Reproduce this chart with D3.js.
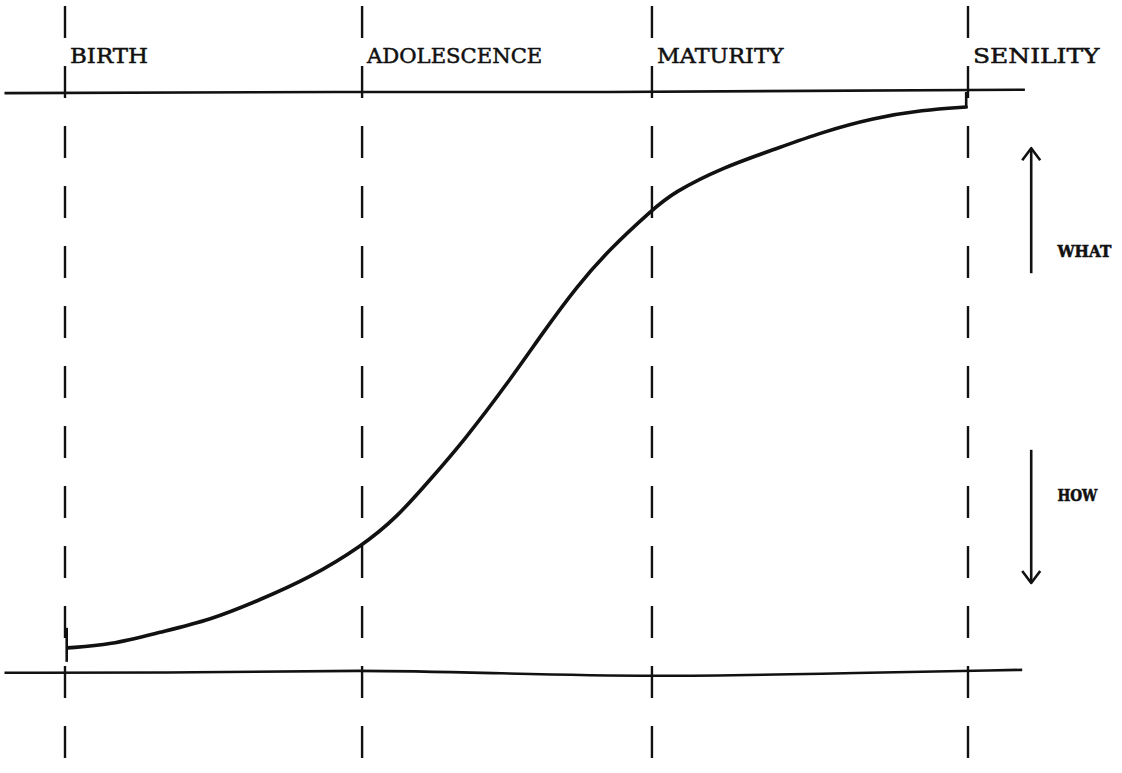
<!DOCTYPE html>
<html>
<head>
<meta charset="utf-8">
<script src="https://cdn.jsdelivr.net/npm/d3@7"></script>
<style>
  body { margin: 0; background: #fff; }
  svg { display: block; }
</style>
</head>
<body>
<svg width="1122" height="773"></svg>
<script>
// stages along the life cycle (x in % of time from birth to senility)
var stages = ["BIRTH", "ADOLESCENCE", "MATURITY", "SENILITY"];
var stageX = [0, 32.9, 65.0, 100];

// the S curve, y in % between bottom line (0) and top line (100)
var curveX = [0.3, 5.0, 10.5, 16.1, 21.6, 27.1, 32.9, 36.8, 40.4, 44.1, 49.3, 52.9, 56.7, 60.4, 65.0, 67.3, 72.9, 78.4, 83.9, 89.5, 95.0, 99.8];
var curveY = [4.0, 4.5, 6.7, 8.8, 12.3, 16.1, 21.6, 26.6, 33.0, 39.6, 50.3, 58.4, 66.5, 73.0, 79.6, 82.6, 87.0, 90.0, 93.1, 95.5, 96.9, 97.4];

// hand drawn top and bottom lines
var topX = [-6.7, 30, 60, 106.3];
var topY = [99.8, 100, 100, 100.4];
var bottomX = [-6.7, 15, 32.9, 48, 65.0, 83, 106];
var bottomY = [-0.3, -0.3, 0.2, -0.4, -1.0, -0.5, 0.2];

// WHAT / HOW arrows
var arrowLabels = ["WHAT", "HOW"];
var arrowX = 107.0;
var arrowFrom = [68.7, 38.2];
var arrowTo = [90.3, 15.2];
var labelX = 109.9;
var labelY = [71.5, 29.3];

var svg = d3.select("svg"),
width = +svg.attr("width"),
height = +svg.attr("height");

var x = d3.scaleLinear().domain([0, 100]).range([65, 968]);
var y = d3.scaleLinear().domain([0, 100]).range([671, 92]);

var ink = "#111";

var g = svg.append("g");

// dashed stage lines
g.selectAll(".stage")
.data(stageX)
.enter().append("line")
.attr("class", "stage")
.attr("x1", function(d) { return x(d); })
.attr("x2", function(d) { return x(d); })
.attr("y1", 6)
.attr("y2", height)
.attr("stroke", ink)
.attr("stroke-width", 2.4)
.attr("stroke-dasharray", "32,28");

var line = d3.line()
.x(function(d) { return x(d[0]); })
.y(function(d) { return y(d[1]); })
.curve(d3.curveMonotoneX);

g.append("path")
.datum(d3.zip(topX, topY))
.attr("d", line)
.attr("fill", "none")
.attr("stroke", ink)
.attr("stroke-width", 2.6);

g.append("path")
.datum(d3.zip(bottomX, bottomY))
.attr("d", line.curve(d3.curveBasis))
.attr("fill", "none")
.attr("stroke", ink)
.attr("stroke-width", 2.6);

g.append("path")
.datum(d3.zip(curveX, curveY))
.attr("d", line.curve(d3.curveBasis))
.attr("fill", "none")
.attr("stroke", ink)
.attr("stroke-width", 3.6)
.attr("stroke-linecap", "round");

// little ticks at both ends of the curve
g.append("line")
.attr("x1", x(curveX[0]) - 1).attr("x2", x(curveX[0]) - 1)
.attr("y1", y(curveY[0]) - 20).attr("y2", y(curveY[0]) + 14)
.attr("stroke", ink).attr("stroke-width", 2.6);

g.append("line")
.attr("x1", x(curveX[curveX.length - 1])).attr("x2", x(curveX[curveX.length - 1]))
.attr("y1", y(curveY[curveY.length - 1])).attr("y2", y(100))
.attr("stroke", ink).attr("stroke-width", 2.6);

// stage names
g.selectAll(".label")
.data(stages)
.enter().append("text")
.attr("class", "label")
.attr("x", function(d, i) { return x(stageX[i]) + 5; })
.attr("y", 63)
.attr("textLength", function(d) { return d.length * 16.2 - 3; })
.attr("lengthAdjust", "spacingAndGlyphs")
.style("font-family", "'DejaVu Serif', serif")
.style("font-size", "20px")
.style("fill", ink)
.style("stroke", ink)
.style("stroke-width", 0.5)
.text(function(d) { return d; });

// arrows
var arrows = g.selectAll(".arrow")
.data(arrowLabels)
.enter().append("g")
.attr("class", "arrow");

arrows.append("line")
.attr("x1", x(arrowX)).attr("x2", x(arrowX))
.attr("y1", function(d, i) { return y(arrowFrom[i]); })
.attr("y2", function(d, i) { return y(arrowTo[i]); })
.attr("stroke", ink)
.attr("stroke-width", 2.6);

arrows.append("path")
.attr("d", function(d, i) {
  var tx = x(arrowX), ty = y(arrowTo[i]);
  var dir = arrowTo[i] > arrowFrom[i] ? 1 : -1;
  return "M" + (tx - 9) + "," + (ty + dir * 12) + "L" + tx + "," + ty + "L" + (tx + 9) + "," + (ty + dir * 12);
})
.attr("fill", "none")
.attr("stroke", ink)
.attr("stroke-width", 2.6)
.attr("stroke-linejoin", "round");

arrows.append("text")
.attr("x", x(labelX))
.attr("y", function(d, i) { return y(labelY[i]); })
.attr("textLength", function(d) { return d.length * 14 - 2; })
.attr("lengthAdjust", "spacingAndGlyphs")
.style("font-family", "'DejaVu Serif', serif")
.style("font-weight", "bold")
.style("font-size", "17px")
.style("fill", ink)
.style("stroke", ink)
.style("stroke-width", 0.6)
.text(function(d) { return d; });
</script>
</body>
</html>
